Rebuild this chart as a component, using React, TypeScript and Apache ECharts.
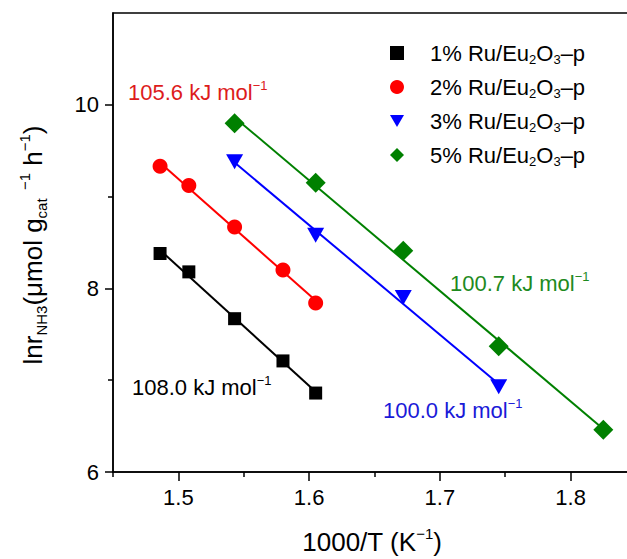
import React, { useEffect, useRef } from 'react';
import * as echarts from 'echarts';

// ---- data ----
const seriesNames = ['1% Ru/Eu2O3-p', '2% Ru/Eu2O3-p', '3% Ru/Eu2O3-p', '5% Ru/Eu2O3-p'];
const x1 = [1.486, 1.508, 1.543, 1.58, 1.605];
const y1 = [8.38, 8.18, 7.67, 7.21, 6.86];
const x2 = [1.486, 1.508, 1.543, 1.58, 1.605];
const y2 = [9.33, 9.12, 8.67, 8.2, 7.84];
const x3 = [1.543, 1.605, 1.672, 1.745];
const y3 = [9.38, 8.58, 7.9, 6.93];
const x5 = [1.543, 1.605, 1.672, 1.745, 1.825];
const y5 = [9.8, 9.15, 8.41, 7.37, 6.46];
const energies = ['108.0', '105.6', '100.0', '100.7'];
const xTickLabels = [1.5, 1.6, 1.7, 1.8];
const xMinorTicks = [1.45, 1.55, 1.65, 1.75, 1.85];
const yTickLabels = [6, 8, 10];
const yMinorTicks = [7, 9];

const FONT = '"Liberation Sans", Arial, Helvetica, sans-serif';
const markerColors = ['#000000', '#ff0000', '#0000ff', '#008000'];
const lineColors = ['#000000', '#ff0000', '#0000ff', '#008000'];
const textColors = ['#000000', '#dd1c1c', '#1a1ad8', '#1e8a1e'];
const symbols = ['rect', 'circle', 'path://M0,0L10,0L5,8.66Z', 'diamond'];
const symbolSizes: any[] = [13, 15, [17, 15], 20];

function pairs(xs: number[], ys: number[]) {
  return xs.map((x, i) => [x, ys[i]]);
}

function fitLine(xs: number[], ys: number[]) {
  const n = xs.length;
  const mx = xs.reduce((a, b) => a + b, 0) / n;
  const my = ys.reduce((a, b) => a + b, 0) / n;
  let sxy = 0;
  let sxx = 0;
  for (let i = 0; i < n; i++) {
    sxy += (xs[i] - mx) * (ys[i] - my);
    sxx += (xs[i] - mx) * (xs[i] - mx);
  }
  const b = sxy / sxx;
  const a = my - b * mx;
  const x0 = Math.min(...xs);
  const xe = Math.max(...xs);
  return [
    [x0, a + b * x0],
    [xe, a + b * xe],
  ];
}

export default function App() {
  const ref = useRef<HTMLDivElement>(null);
  useEffect(() => {
    if (!ref.current) return;
    const chart = echarts.init(ref.current, null, { renderer: 'svg' });
    const xs = [x1, x2, x3, x5];
    const ys = [y1, y2, y3, y5];

    const supRich = {
      a: { fontSize: 22, lineHeight: 26, fontFamily: FONT },
      p: { fontSize: 13, lineHeight: 12, verticalAlign: 'top', fontFamily: FONT },
    };
    const annPos = [
      [132, 387],
      [128, 92],
      [383, 410],
      [450, 283],
    ];

    const scatterSeries = xs.map((x, i) => ({
      name: seriesNames[i],
      type: 'scatter',
      data: pairs(x, ys[i]),
      symbol: symbols[i],
      symbolSize: symbolSizes[i],
      itemStyle: { color: markerColors[i], opacity: 1 },
      z: 5,
      silent: true,
    }));
    const lineSeries = xs.map((x, i) => ({
      name: 'fit' + i,
      type: 'line',
      data: fitLine(x, ys[i]),
      showSymbol: false,
      symbol: 'none',
      lineStyle: { color: lineColors[i], width: 2 },
      z: 2,
      silent: true,
    }));

    const option: any = {
      animation: false,
      backgroundColor: '#ffffff',
      textStyle: { fontFamily: FONT },
      grid: {
        left: 113,
        top: 13,
        width: 523,
        height: 459,
        show: true,
        borderColor: '#000',
        borderWidth: 1.5,
        backgroundColor: 'transparent',
        containLabel: false,
        outerBoundsMode: 'none',
      },
      xAxis: [
        {
          type: 'value',
          min: 1.45,
          max: 1.85,
          interval: 0.05,
          position: 'bottom',
          axisLine: { show: true, lineStyle: { color: '#000', width: 1.5 } },
          axisTick: { show: true, length: 9, customValues: xTickLabels, lineStyle: { color: '#000', width: 1.5 } },
          axisLabel: {
            show: true,
            customValues: xTickLabels,
            fontSize: 22,
            color: '#000',
            margin: 14,
            fontFamily: FONT,
            formatter: (v: number) => v.toFixed(1),
          },
          splitLine: { show: false },
        },
        {
          type: 'value',
          min: 1.45,
          max: 1.85,
          interval: 0.05,
          position: 'bottom',
          axisLine: { show: false },
          axisTick: { show: true, length: 5, customValues: xMinorTicks, lineStyle: { color: '#000', width: 1.5 } },
          axisLabel: { show: false },
          splitLine: { show: false },
        },
      ],
      yAxis: [
        {
          type: 'value',
          min: 6,
          max: 11,
          interval: 1,
          position: 'left',
          axisLine: { show: true, lineStyle: { color: '#000', width: 1.5 } },
          axisTick: { show: true, length: 8, customValues: yTickLabels, lineStyle: { color: '#000', width: 1.5 } },
          axisLabel: {
            show: true,
            customValues: yTickLabels,
            fontSize: 22,
            color: '#000',
            margin: 14,
            fontFamily: FONT,
          },
          splitLine: { show: false },
        },
        {
          type: 'value',
          min: 6,
          max: 11,
          interval: 1,
          position: 'left',
          axisLine: { show: false },
          axisTick: { show: true, length: 5, customValues: yMinorTicks, lineStyle: { color: '#000', width: 1.5 } },
          axisLabel: { show: false },
          splitLine: { show: false },
        },
      ],
      legend: {
        data: seriesNames,
        orient: 'vertical',
        left: 385,
        top: 37,
        itemWidth: 14,
        itemHeight: 14,
        itemGap: 10,
        formatter: (n: string) => {
          const pct = n.split(' ')[0];
          return `{a|${pct} Ru/Eu}{s|2}{a|O}{s|3}{a|\u2013p}`;
        },
        textStyle: {
          padding: [0, 0, 0, 21],
          color: '#000',
          rich: {
            a: { fontSize: 22, lineHeight: 26, fontFamily: FONT, color: '#000' },
            s: { fontSize: 13, lineHeight: 12, verticalAlign: 'bottom', fontFamily: FONT, color: '#000' },
          },
        },
        selectedMode: false,
      },
      graphic: [
        ...energies.map((e, i) => ({
          type: 'text',
          x: annPos[i][0],
          y: annPos[i][1],
          silent: true,
          style: {
            text: `{a|${e} kJ mol}{p|\u22121}`,
            align: 'left',
            verticalAlign: 'middle',
            fill: textColors[i],
            rich: {
              a: { ...supRich.a, fill: textColors[i] },
              p: { ...supRich.p, fill: textColors[i] },
            },
          },
        })),
        {
          type: 'text',
          x: 372,
          y: 542,
          silent: true,
          style: {
            text: '{a|1000/T (K}{p|\u22121}{a|)}',
            align: 'center',
            verticalAlign: 'middle',
            fill: '#000',
            rich: {
              a: { fontSize: 26, lineHeight: 32, fontFamily: FONT, fill: '#000' },
              p: { fontSize: 15, lineHeight: 14, verticalAlign: 'top', fontFamily: FONT, fill: '#000' },
            },
          },
        },
        {
          type: 'text',
          x: 33,
          y: 245,
          rotation: Math.PI / 2,
          silent: true,
          style: {
            text: '{a|lnr}{s|NH3}{a|(\u03bcmol g}{s|cat}{p|  \u22121}{a| h}{p|\u22121}{a|)}',
            align: 'center',
            verticalAlign: 'middle',
            fill: '#000',
            rich: {
              a: { fontSize: 26, lineHeight: 32, fontFamily: FONT, fill: '#000' },
              s: { fontSize: 15, lineHeight: 14, verticalAlign: 'bottom', fontFamily: FONT, fill: '#000' },
              p: { fontSize: 15, lineHeight: 14, verticalAlign: 'top', fontFamily: FONT, fill: '#000' },
            },
          },
        },
      ],
      series: [...lineSeries, ...scatterSeries],
    };
    chart.setOption(option);
    return () => chart.dispose();
  }, []);
  return (
    <div
      ref={ref}
      style={{ position: 'fixed', left: 0, top: 0, width: 627, height: 559, background: '#fff' }}
    />
  );
}
